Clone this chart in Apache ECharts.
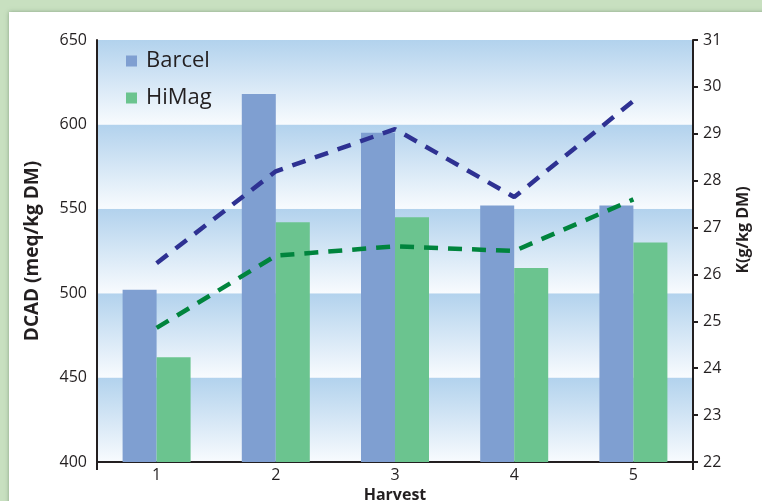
<!DOCTYPE html>
<html>
<head>
<meta charset="utf-8">
<script src="https://cdn.jsdelivr.net/npm/echarts@6/dist/echarts.min.js"></script>
<style>
  html, body { margin: 0; padding: 0; }
  body { width: 762px; height: 501px; background: #c8e0c0; position: relative; overflow: hidden; }
  #panel { position: absolute; left: 9px; top: 12px; width: 800px; height: 520px; background: #fff;
           box-shadow: 0 0 4px rgba(90,120,90,0.6); }
  #main { position: absolute; left: 0; top: 0; width: 762px; height: 501px; }
</style>
</head>
<body>
<div id="panel"></div>
<div id="main"></div>
<script>
var harvests = ['1', '2', '3', '4', '5'];
var barcelDcad = [502, 618, 595, 552, 552];
var himagDcad = [462, 542, 545, 515, 530];
var barcelK = [26.24, 28.2, 29.1, 27.65, 29.7];
var himagK = [24.86, 26.4, 26.6, 26.5, 27.6];

var font = '"Open Sans", "Noto Sans", sans-serif';
var ink = '#231f20';

var band = new echarts.graphic.LinearGradient(0, 0, 0, 1, [
  { offset: 0, color: '#b2d2ed' },
  { offset: 1, color: '#f8fbfe' }
]);

var myChart = echarts.init(document.getElementById('main'));
myChart.setOption({
  backgroundColor: 'transparent',
  animation: false,
  textStyle: { fontFamily: font, color: ink },
  legend: {
    orient: 'vertical',
    left: 126, top: 50,
    padding: 0,
    itemWidth: 11, itemHeight: 11, itemGap: 15,
    textStyle: { fontSize: 22, color: ink, fontFamily: font, padding: [0, 0, 0, 4] },
    data: [
      { name: 'Barcel', icon: 'rect' },
      { name: 'HiMag', icon: 'rect' }
    ]
  },
  grid: { left: 97, right: 69, top: 40, bottom: 39, outerBoundsMode: 'none', containLabel: false },
  xAxis: {
    type: 'category',
    data: harvests,
    name: 'Harvest',
    nameLocation: 'middle',
    nameGap: 23,
    nameTextStyle: { fontSize: 16, fontWeight: 'bold', color: ink },
    axisLine: { lineStyle: { color: ink, width: 2 } },
    // only the two end ticks, they extend the side axes below the baseline
    axisTick: { show: true, length: 8, interval: function (i) { return i === 0; }, lineStyle: { color: ink, width: 2 } },
    axisLabel: { fontSize: 16, color: ink, margin: 5, interval: 0 }
  },
  yAxis: [{
    type: 'value',
    min: 400, max: 650, interval: 50,
    name: 'DCAD (meq/kg DM)',
    nameLocation: 'middle',
    nameRotate: 90,
    nameGap: 55,
    nameTextStyle: { fontSize: 19, fontWeight: 'bold', color: ink },
    axisLine: { show: true, lineStyle: { color: ink, width: 2 } },
    axisTick: { show: false },
    axisLabel: { fontSize: 16, color: ink, margin: 10 },
    splitLine: { show: false },
    splitArea: { show: true, areaStyle: { color: [band] } }
  }, {
    type: 'value',
    min: 22, max: 31, interval: 1,
    name: 'K(g/kg DM)',
    nameLocation: 'middle',
    nameRotate: 90,
    nameGap: 42,
    nameTextStyle: { fontSize: 16, fontWeight: 'bold', color: ink, padding: [0, 0, 0, 42] },
    axisLine: { show: true, lineStyle: { color: ink, width: 2 } },
    axisTick: { show: true, length: 5, lineStyle: { color: ink, width: 2 } },
    axisLabel: { fontSize: 16, color: ink, margin: 10 },
    splitLine: { show: false }
  }],
  series: [{
    name: 'Barcel',
    type: 'bar',
    data: barcelDcad,
    barWidth: 34,
    barGap: '0%',
    itemStyle: { color: '#7f9fd1' }
  }, {
    name: 'HiMag',
    type: 'bar',
    data: himagDcad,
    barWidth: 34,
    itemStyle: { color: '#6bc48f' }
  }, {
    name: 'Barcel K',
    type: 'line',
    yAxisIndex: 1,
    data: barcelK,
    symbol: 'none',
    lineStyle: { color: '#2e3192', width: 4.5, type: [14, 10] },
    z: 5
  }, {
    name: 'HiMag K',
    type: 'line',
    yAxisIndex: 1,
    data: himagK,
    symbol: 'none',
    lineStyle: { color: '#00843d', width: 4.5, type: [14, 10] },
    z: 5
  }]
});
</script>
</body>
</html>
